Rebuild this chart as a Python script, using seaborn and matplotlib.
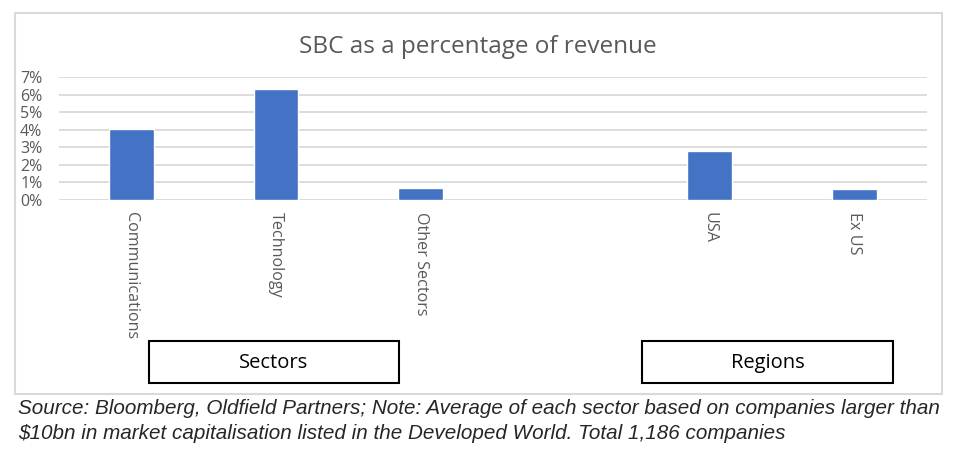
import pandas as pd
import numpy as np
import matplotlib.pyplot as plt
import seaborn as sns
from matplotlib.patches import Rectangle
from matplotlib.ticker import PercentFormatter

categories = ['Communications', 'Technology', 'Other Sectors', 'USA', 'Ex US']
sbc_pct = [0.0403, 0.0636, 0.0066, 0.0279, 0.0062]
slot_order = ['Communications', 'Technology', 'Other Sectors', ' ', 'USA', 'Ex US']
group_labels = ['Sectors', 'Regions']

df = pd.DataFrame({'category': categories, 'sbc': sbc_pct})

sns.set_theme(style='white')
plt.rcParams['font.family'] = ['Open Sans', 'DejaVu Sans']

fig = plt.figure(figsize=(9.56, 4.58), dpi=100)
ax = fig.add_axes([59 / 956, 1 - 200 / 458, (926.7 - 59) / 956, 122.7 / 458])

sns.barplot(data=df, x='category', y='sbc', order=slot_order,
            color='#4472C4', saturation=1, width=0.31, ax=ax)

ax.set_ylim(0, 0.07)
ax.set_yticks(np.arange(0, 0.071, 0.01))
ax.yaxis.set_major_formatter(PercentFormatter(1.0, decimals=0))
ax.grid(axis='y', color='#d9d9d9', linewidth=1.3)
ax.set_axisbelow(True)
for s in ax.spines.values():
    s.set_visible(False)
ax.set_xlabel('')
ax.set_ylabel('')
ax.tick_params(axis='y', length=0, pad=12, labelsize=11.5, labelcolor='#595959')
ax.tick_params(axis='x', length=0, pad=9, labelsize=11.6, labelcolor='#595959')
for lab in ax.get_xticklabels():
    lab.set_rotation(-90)
    lab.set_va('top')
    lab.set_ha('center')

fig.text(478 / 956, 1 - 47 / 458, 'SBC as a percentage of revenue',
         ha='center', va='center', fontsize=17.5, color='#595959')

# outer chart frame
fig.add_artist(Rectangle((15 / 956, 1 - 394 / 458), (942 - 15) / 956, (394 - 13) / 458,
                         transform=fig.transFigure, fill=False,
                         edgecolor='#d9d9d9', linewidth=1.5))

# group boxes
boxes = [(149, 399), (642, 893)]
for (x0, x1), lab in zip(boxes, group_labels):
    fig.add_artist(Rectangle((x0 / 956, 1 - 383 / 458), (x1 - x0) / 956, 42 / 458,
                             transform=fig.transFigure, fill=False,
                             edgecolor='black', linewidth=1.5))
    fig.text((x0 + x1) / 2 / 956, 1 - 363 / 458, lab, ha='center', va='center',
             fontsize=14.5, color='black')

fig.text(18 / 956, 1 - 399 / 458,
         'Source: Bloomberg, Oldfield Partners; Note: Average of each sector based on companies larger than\n'
         '$10bn in market capitalisation listed in the Developed World. Total 1,186 companies',
         ha='left', va='top', fontsize=14.9, style='italic',
         family=['Liberation Sans', 'DejaVu Sans'], linespacing=1.38)

fig.savefig('out.png', dpi=100)
